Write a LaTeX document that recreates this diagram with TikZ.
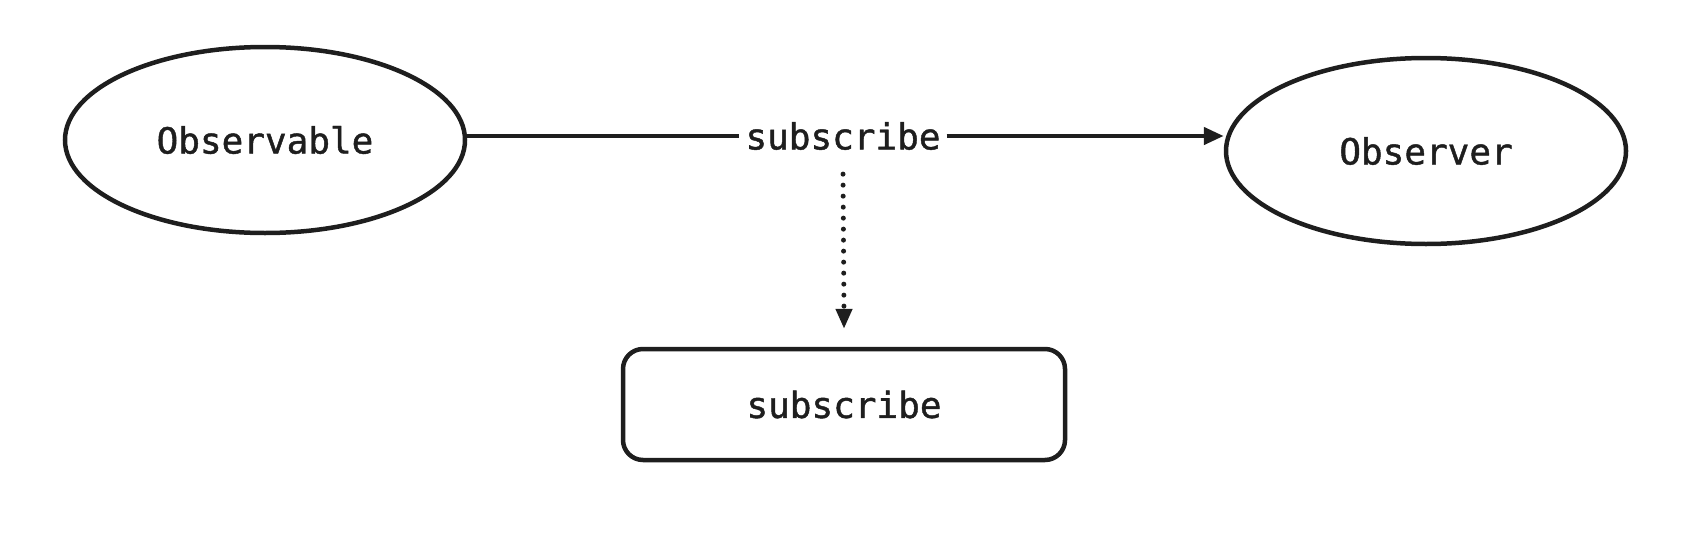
\documentclass[tikz,border=0pt]{standalone}
\usepackage{fontspec}
\newfontfamily\handfont[FakeBold=1.2]{DejaVu Sans Mono}
\usetikzlibrary{shapes.geometric,arrows.meta}
\definecolor{ink}{HTML}{1E1E1E}
\tikzset{
  txt/.style={font=\handfont\fontsize{36}{36}\selectfont,text=ink},
  oval/.style={ellipse,draw=ink,line width=4.5pt,minimum width=400pt,minimum height=186pt,inner sep=0pt,txt},
  roundbox/.style={rectangle,rounded corners=20pt,draw=ink,line width=4.5pt,minimum width=442pt,minimum height=111pt,inner sep=0pt,txt},
  lbl/.style={inner sep=6pt,txt},
  conn/.style={draw=ink,line width=4.5pt},
  tip/.style={-{Triangle[length=20pt,width=17pt]}},
  dotline/.style={draw=ink,line width=5pt,line cap=round,dash pattern=on 0pt off 11pt}
}
\begin{document}
\begin{tikzpicture}[x=1pt,y=-1pt]
\useasboundingbox (0,0) rectangle (1704,538);
\node[oval] (obs) at (265,140) {Observable};
\node[oval] (obr) at (1426,151) {Observer};
\node[lbl] (lab) at (843,136) {subscribe};
\node[roundbox] (sub) at (844,404.5) {subscribe};
\draw[conn] (obs.east |- lab.west) -- (lab.west);
\draw[conn,tip] (lab.east) -- (lab.east -| obr.west);
\draw[dotline] ([yshift=-18pt]lab.south) -- ([yshift=36pt]sub.north);
\draw[conn,-{Triangle[length=20pt,width=16pt]},shorten >=18pt] ([yshift=38pt]sub.north) -- (sub.north);
\end{tikzpicture}
\end{document}
